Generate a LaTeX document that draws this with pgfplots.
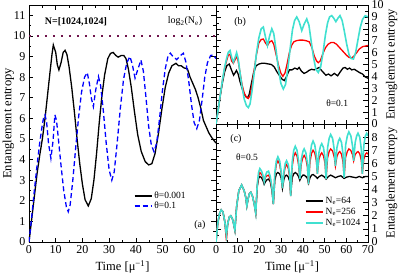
\documentclass[border=0pt]{standalone}
\usepackage{pgfplots}
\pgfplotsset{compat=1.18}
\usepackage{fontspec}
\setmainfont{Liberation Serif}
\definecolor{dotc}{RGB}{110,20,75}
\definecolor{turq}{RGB}{64,224,208}
\pgfplotsset{
  common/.style={
    scale only axis,
    xmin=0, xmax=70,
    tick align=inside,
    major tick length=4.5pt,
    minor tick length=2.5pt,
    every tick/.style={black, line width=0.6pt},
    axis line style={line width=0.7pt},
    minor x tick num=1,
    minor y tick num=1,
    /pgf/number format/assume math mode=true,
    tick label style={font=\fontsize{12}{12}\selectfont},
    label style={font=\fontsize{12.5}{13}\selectfont},
    clip=true,
  }
}
\begin{document}
\begin{tikzpicture}
\useasboundingbox (0,0) rectangle (399pt,274pt);
% ---------------- panel (a)
\begin{axis}[common,
  at={(29pt,32pt)}, anchor=south west,
  width=187pt, height=237pt,
  ymin=0, ymax=11.5,
  xtick={0,10,...,70}, xticklabels={0,10,20,30,40,50,60,{}},
  ytick={0,1,...,11},
  xlabel={Time [μ\textsuperscript{−1}]},
  ylabel={Entanglement entropy},
  ylabel style={at={(axis description cs:-0.11,0.5)}, anchor=center},
  legend style={draw=none, fill=none, at={(0.555,0.225)}, anchor=north west,
    font=\fontsize{9.5}{10}\selectfont, row sep=-2pt, inner sep=1pt},
  legend cell align=left,
]
\addplot[black, line width=1.3pt] coordinates {
(0,0)(1,1.1)(2,2.2)(3,3.3)(4,4.2)(5,5.0)(6,6.0)(7,7.2)(8,8.4)(8.6,9.1)(9.1,9.56)
(10,9.2)(10.6,8.6)(11.2,8.35)(12,8.7)(12.8,9.2)(13.5,9.3)(14.2,9.1)(15,8.5)(16,7.5)
(17,6.3)(18,5.0)(19,3.8)(20,2.8)(21,2.05)(22.2,1.75)(23.3,2.1)(24.3,3.0)(25.3,4.3)
(26.3,5.8)(27.3,7.1)(28.3,8.1)(29.5,8.9)(30.5,9.15)(31.5,9.2)(32.5,9.05)(33.4,8.97)
(34.5,9.05)(35.5,9.05)(36.3,8.9)(37.2,8.4)(38.3,7.5)(39.5,6.3)(40.7,5.2)(42,4.4)
(43.5,3.9)(44.8,3.74)(46,3.8)(47.2,4.3)(48.5,5.3)(49.8,6.5)(51,7.5)(52.3,8.2)
(53.5,8.55)(55,8.67)(56,8.55)(57,8.55)(58,8.45)(59.3,8.4)(60.3,8.0)(61.3,7.7)
(62.3,7.4)(63.3,7.0)(64.3,6.5)(65.3,5.9)(66.3,5.6)(67.3,5.3)(68.5,5.05)(70,4.8)};
\addlegendentry{θ=0.001}
\addplot[blue, line width=1.3pt, dash pattern=on 5pt off 3pt] coordinates {
(0,0)(1,1.2)(2,2.5)(3,3.7)(4,4.8)(5,5.7)(5.5,6.05)(6,6.17)(6.6,5.8)(7.3,4.8)(8.2,4.06)
(9,4.9)(9.7,6.17)(10.3,5.9)(11,5.0)(12,3.7)(13,2.5)(14,1.7)(14.7,1.47)(15.4,1.8)
(16.4,3.0)(17.5,4.6)(18.6,6.1)(19.7,7.3)(20.8,8.0)(21.8,8.22)(22.6,7.7)(23.3,7.0)
(24.1,6.57)(25,7.4)(26,8.03)(26.8,7.6)(27.8,6.4)(28.9,4.8)(30,3.5)(31,3.0)(31.9,3.4)
(33,4.8)(34.2,6.5)(35.4,7.9)(36.6,8.7)(37.8,9.0)(38.7,8.6)(39.7,7.95)(40.8,8.4)
(41.9,8.83)(42.8,8.3)(43.8,7.0)(44.8,5.6)(45.8,4.7)(46.8,4.38)(47.8,4.8)(48.8,5.9)
(49.9,7.3)(51,8.4)(52,9.0)(52.9,9.16)(53.9,9.0)(55.3,8.85)(56.7,9.05)(57.8,9.16)
(58.8,8.7)(59.8,7.8)(60.8,6.7)(61.8,5.8)(62.8,5.5)(63.8,5.9)(64.8,6.9)(65.8,8.0)
(66.8,8.7)(68,9.05)(69,9.08)(70,8.9)};
\addlegendentry{θ=0.1}
\addplot[dotc, line width=2pt, dash pattern=on 2pt off 6pt, forget plot] coordinates {(0,10)(70,10)};
\node[font=\bfseries\fontsize{10}{10}\selectfont] at (axis cs:17.6,10.7) {N=[1024,1024]};
\node[font=\fontsize{10}{10}\selectfont] at (axis cs:58.4,10.7) {log\textsubscript{2}(N\textsubscript{e})};
\node[font=\fontsize{10}{10}\selectfont] at (axis cs:64,0.8) {(a)};
\end{axis}
% ---------------- panel (b)
\begin{axis}[common,
  at={(216pt,150pt)}, anchor=south west,
  width=152pt, height=119pt,
  ymin=0, ymax=10,
  xtick={0,10,...,70}, xticklabels={},
  ytick={0,1,...,10},
  yticklabel pos=right,
  ylabel={Entanglement entropy},
  ylabel style={at={(axis description cs:1.155,0.5)}, anchor=center},
]
\addplot[black, line width=1.3pt] coordinates {
(0,0)(1,1.2)(2,2.4)(3,3.5)(4,4.4)(5,4.9)(6.1,5.04)(7,4.6)(8.1,4.1)(8.8,4.3)(9.4,4.5)
(10.2,4.2)(11,3.6)(12,3.0)(13,2.5)(14,2.25)(14.5,2.2)(15.3,2.5)(16.3,3.4)(17.3,4.3)
(18.5,4.9)(19.8,5.04)(21,5.1)(22.5,5.1)(24,5.05)(25.5,5.0)(26.8,4.8)(28,4.4)(29.3,4.05)
(30.5,3.75)(31.5,3.65)(32.5,4.0)(33.8,4.55)(35,4.55)(36.3,4.7)(37.5,4.6)(38.3,4.75)
(39.3,4.45)(40.5,4.25)(41.7,4.35)(42.8,4.5)(44,4.6)(45.2,4.55)(46.4,4.65)(47.5,4.75)
(48.6,4.5)(49.6,4.3)(50.6,4.1)(51.8,4.2)(53,4.05)(54.5,4.25)(56,4.05)(57.3,4.4)
(58.5,4.7)(59.5,4.75)(60.5,4.6)(61.5,4.7)(62.5,4.55)(63.7,4.6)(65,4.45)(66.3,4.3)
(67.5,4.2)(68.7,3.95)(70,3.85)};
\addplot[red, line width=1.3pt] coordinates {
(0,0)(1,1.2)(2,2.5)(3,3.7)(4,4.7)(5,5.4)(5.7,5.8)(6.4,5.85)(7.2,5.3)(8,5.1)(8.8,5.4)
(9.5,5.7)(10.2,5.3)(11,4.4)(12,3.3)(13,2.6)(14,2.25)(14.9,2.15)(15.7,2.4)(16.6,3.3)
(17.6,4.6)(18.6,5.8)(19.7,6.8)(20.8,7.1)(21.8,7.14)(22.8,6.8)(23.7,6.6)(24.7,6.9)
(25.7,7.0)(26.6,6.7)(27.6,5.9)(28.7,5.0)(29.8,4.3)(30.8,4.0)(31.8,4.3)(32.8,5.1)
(33.8,6.0)(34.8,6.6)(35.8,6.9)(37,7.0)(38.5,7.05)(40,7.05)(41.5,7.0)(43,6.9)(44.2,6.4)
(45.3,5.7)(46.3,5.3)(47.1,5.15)(48,5.3)(49.2,5.9)(50.4,6.4)(51.6,6.7)(53,6.85)
(54.2,6.85)(55.5,6.7)(57,6.4)(58.5,6.1)(60,5.8)(61.2,5.6)(62.5,5.55)(63.5,5.7)
(64.8,6.0)(66,6.3)(67.5,6.5)(70,6.6)};
\addplot[turq, line width=1.6pt] coordinates {
(0,0)(1,1.2)(2,2.5)(3,3.7)(4,4.8)(5,5.6)(5.7,6.05)(6.45,6.18)(7.2,5.6)(8,5.2)(8.8,5.6)
(9.5,6.0)(10.2,5.5)(11,4.4)(12,3.1)(13,2.1)(14,1.55)(14.9,1.38)(15.7,1.7)(16.6,2.8)
(17.6,4.3)(18.6,5.9)(19.7,7.2)(20.8,8.0)(21.8,8.15)(22.8,7.3)(23.7,6.6)(24.7,7.4)
(25.7,8.0)(26.6,7.6)(27.6,6.3)(28.7,4.7)(29.9,3.4)(31,2.94)(32,3.3)(33.1,4.7)(34.2,6.4)
(35.2,7.9)(36.2,8.7)(37.2,9.0)(38.3,8.6)(39.5,7.85)(40.6,8.4)(41.8,8.83)(42.8,8.3)
(43.8,7.0)(44.9,5.6)(46,4.6)(47.1,4.33)(48.2,4.8)(49.3,6.0)(50.4,7.5)(51.4,8.5)
(52.3,9.0)(53.3,9.11)(54.2,8.9)(55.2,8.6)(56.2,8.9)(57.1,9.11)(58.1,8.7)(59.1,7.8)
(60.2,6.7)(61.3,5.8)(62.3,5.5)(63.3,5.46)(64.3,6.0)(65.3,7.0)(66.4,8.1)(67.5,8.8)
(68.7,9.1)(70,9.0)};
\node[font=\fontsize{10}{10}\selectfont] at (axis cs:11.1,8.56) {(b)};
\node[font=\fontsize{9.5}{10}\selectfont] at (axis cs:55.8,1.78) {θ=0.1};
\end{axis}
% ---------------- panel (c)
\begin{axis}[common,
  at={(216pt,32pt)}, anchor=south west,
  width=152pt, height=118pt,
  ymin=0, ymax=9,
  xtick={0,10,...,70},
  ytick={0,1,...,9}, yticklabels={0,1,2,3,4,5,6,7,8,{}},
  yticklabel pos=right,
  xlabel={Time [μ\textsuperscript{−1}]},
  ylabel={Entanglement entropy},
  ylabel style={at={(axis description cs:1.155,0.5)}, anchor=center},
  legend style={draw=none, fill=none, at={(0.575,0.405)}, anchor=north west,
    font=\fontsize{9.5}{10}\selectfont, row sep=-1pt, inner sep=1pt},
  legend cell align=left,
  legend image post style={line width=2pt},
]
\addplot[black, line width=1.3pt] coordinates {
(0,0)(0.8,1.4)(1.6,2.15)(2.4,2.45)(3.2,2.3)(4,1.6)(4.8,0.5)(5.4,1.4)(6.1,1.9)(6.8,2.0)
(7.5,1.8)(8.1,1.4)(8.7,0.9)(9.5,2.7)(10.5,3.9)(11.8,4.35)(13,3.9)(13.7,3.4)(14.2,2.75)
(14.8,3.3)(15.4,3.7)(16,3.8)(16.8,3.5)(17.6,2.9)(18.3,2.2)(19,4.2)(19.6,4.85)(20.2,5.0)
(21,4.9)(21.6,4.7)(22.2,4.4)(22.8,4.6)(23.5,4.75)(24.2,4.8)(25,4.6)(25.8,3.9)(26.4,2.9)
(27.1,4.7)(27.8,5.2)(28.5,5.3)(29.3,5.2)(30,4.9)(30.6,4.1)(31.3,4.8)(31.9,5.05)
(32.5,5.1)(33.3,4.95)(34,4.6)(34.4,3.6)(35.1,4.9)(35.8,5.2)(36.5,5.3)(37.3,5.2)
(38,5.0)(38.6,4.7)(39.3,4.95)(40,5.1)(40.6,5.1)(41.4,5.0)(42.1,4.85)(42.6,4.5)
(43.3,4.9)(44,5.1)(44.7,5.15)(45.5,5.05)(46.2,4.95)(46.7,4.85)(47.6,5.0)(48.7,5.1)
(50,4.95)(50.7,4.8)(51.8,5.0)(52.8,5.1)(54,5.0)(55,4.9)(56.3,5.0)(57.5,5.05)(59,4.85)
(60.2,4.95)(61.5,5.0)(63,4.95)(64.5,4.9)(66,5.0)(67.4,4.9)(68.8,5.0)(70,5.0)};
\addlegendentry{N\textsubscript{e}=64}
\addplot[red, line width=1.3pt] coordinates {
(0,0)(0.8,1.4)(1.6,2.15)(2.4,2.45)(3.2,2.3)(4,1.6)(4.8,0.1)(5.4,1.4)(6.1,1.9)(6.8,2.0)
(7.5,1.8)(8.1,1.4)(8.7,0.9)(9.5,2.7)(10.5,3.9)(11.8,4.35)(13,3.9)(13.7,3.4)(14.2,2.75)
(14.8,3.3)(15.4,3.7)(16,3.8)(16.8,3.5)(17.6,2.9)(18.3,2.2)(19,4.3)(19.6,5.05)(20.2,5.3)
(21,5.15)(21.6,4.95)(22.2,4.6)(22.8,4.95)(23.5,5.05)(24.2,5.1)(25,4.8)(25.8,4.0)(26.4,2.9)
(27.1,5.1)(27.8,5.93)(28.5,6.2)(29.3,5.94)(30,5.24)(30.6,4.1)(31.3,5.21)(31.9,5.73)
(32.5,5.9)(33.3,5.63)(34,4.83)(34.4,3.5)(35.1,5.76)(35.8,6.54)(36.5,6.8)(37.3,6.56)
(38,5.92)(38.6,4.8)(39.3,5.97)(40,6.44)(40.6,6.6)(41.4,6.36)(42.1,5.7)(42.6,4.4)
(43.3,6.13)(44,6.76)(44.7,7.0)(45.5,6.78)(46.2,6.21)(46.7,5.2)(47.4,6.31)(48.1,6.66)
(48.7,6.8)(49.5,6.58)(50.2,5.99)(50.7,4.8)(51.4,6.42)(52.1,6.9)(52.8,7.1)(53.7,6.94)
(54.5,6.45)(55,5.8)(55.7,6.53)(56.4,6.8)(57,6.9)(57.8,6.7)(58.5,6.1)(59,4.9)(59.7,6.47)
(60.5,6.91)(61.2,7.1)(62.1,6.98)(62.9,6.65)(63.4,6.2)(64.1,6.67)(64.8,6.83)(65.4,6.9)
(66.2,6.73)(66.9,6.24)(67.4,5.2)(68.1,6.33)(68.8,6.7)(69.4,6.8)(70,6.7)};
\addlegendentry{N\textsubscript{e}=256}
\addplot[turq, line width=1.6pt] coordinates {
(0,0)(0.8,1.4)(1.6,2.15)(2.4,2.45)(3.2,2.3)(4,1.6)(4.8,0.5)(5.4,1.4)(6.1,1.9)(6.8,2.0)
(7.5,1.8)(8.1,1.4)(8.7,0.9)(9.5,2.7)(10.5,3.9)(11.8,4.35)(13,3.9)(13.7,3.4)(14.2,2.75)
(14.8,3.3)(15.4,3.7)(16,3.8)(16.8,3.5)(17.6,2.9)(18.3,2.2)(19,4.4)(19.6,5.3)(20.2,5.6)
(21,5.4)(21.6,5.1)(22.2,4.6)(22.8,5.1)(23.5,5.35)(24.2,5.4)(25,5.0)(25.8,4.1)(26.4,2.9)
(27.1,5.3)(27.8,6.2)(28.5,6.5)(29.3,6.2)(30,5.4)(30.6,4.1)(31.3,5.4)(31.9,6.0)(32.5,6.2)
(33.3,5.9)(34,5.0)(34.4,3.5)(35.1,6.1)(35.8,7.0)(36.5,7.3)(37.3,7.0)(38,6.2)(38.6,4.8)
(39.3,6.3)(40,6.9)(40.6,7.1)(41.4,6.8)(42.1,6.0)(42.6,4.4)(43.3,6.6)(44,7.4)(44.7,7.7)
(45.5,7.4)(46.2,6.6)(46.7,5.2)(47.4,6.8)(48.1,7.3)(48.7,7.5)(49.5,7.2)(50.2,6.4)
(50.7,4.8)(51.4,7.2)(52.1,7.9)(52.8,8.2)(53.7,7.9)(54.5,7.0)(55,5.8)(55.7,7.2)(56.4,7.7)
(57,7.9)(57.8,7.6)(58.5,6.7)(59,4.9)(59.7,7.4)(60.5,8.1)(61.2,8.4)(62.1,8.1)(62.9,7.3)
(63.4,6.2)(64.1,7.6)(64.8,8.1)(65.4,8.3)(66.2,8.0)(66.9,7.1)(67.4,5.2)(68.1,7.4)
(68.8,8.1)(69.4,8.3)(70,8.1)};
\addlegendentry{N\textsubscript{e}=1024}
\node[font=\fontsize{10}{10}\selectfont] at (axis cs:9.2,7.86) {(c)};
\node[font=\fontsize{9.5}{10}\selectfont] at (axis cs:14.3,6.5) {θ=0.5};
\end{axis}
\end{tikzpicture}
\end{document}
